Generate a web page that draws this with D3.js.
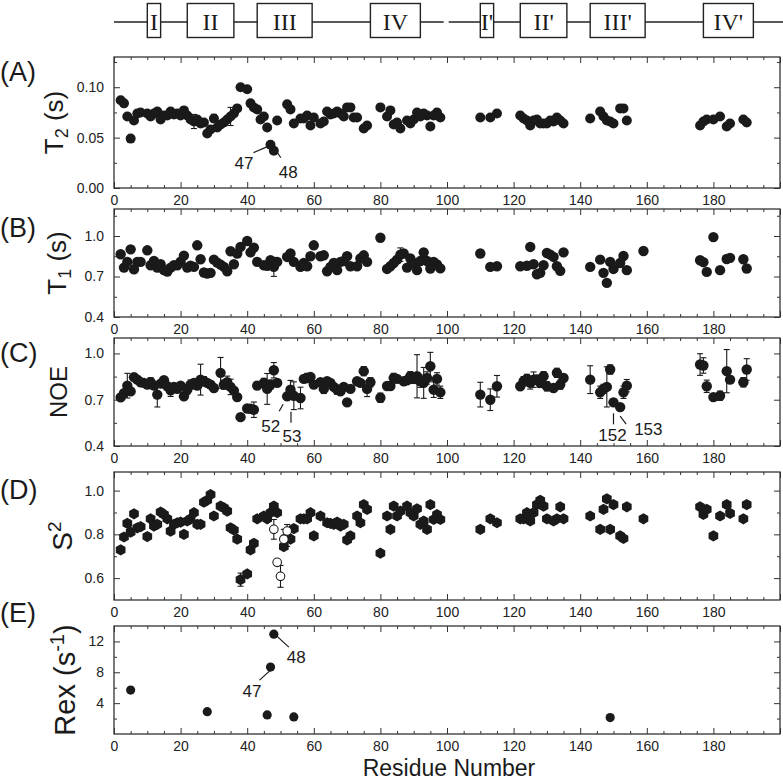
<!DOCTYPE html>
<html>
<head>
<meta charset="utf-8">
<script src="https://cdn.jsdelivr.net/npm/d3@7"></script>
<style>
  body { margin: 0; background: #fff; }
  svg { display: block; }
</style>
</head>
<body>
<script>
// ---- data: [residue, value] or [residue, value, error] ----
const domainNames = ["I", "II", "III", "IV", "I'", "II'", "III'", "IV'"];
const domainStart = [10, 22, 43, 77, 110, 122, 143, 177];
const domainEnd   = [14, 36, 59.5, 92, 114, 136, 159.5, 192];
const chainSpans  = [[0, 99], [100.5, 201]];

const t2Data = [[2,0.087],[3,0.084],[4,0.071],[5,0.049],[6,0.067],[7,0.074],[8,0.075],[10,0.074],[11,0.071],[12,0.074],[13,0.076],[14,0.068],[15,0.072],[16,0.072],[17,0.076],[18,0.073],[19,0.074],[20,0.072],[21,0.077],[22,0.072],[23,0.068],[24,0.066],[25,0.068],[26,0.064],[27,0.065],[28,0.054],[29,0.058],[30,0.069],[31,0.060],[32,0.063],[33,0.065],[34,0.068],[35,0.071],[36,0.074],[37,0.079],[38,0.100],[40,0.098],[41,0.084],[42,0.080],[43,0.078],[44,0.068],[45,0.071],[46,0.060],[47,0.043],[48,0.037],[49,0.067],[52,0.083],[53,0.078],[54,0.064],[56,0.069],[57,0.069],[58,0.072],[59,0.062],[60,0.070],[62,0.064],[63,0.066],[64,0.076],[65,0.073],[66,0.074],[67,0.076],[68,0.074],[69,0.071],[70,0.080],[71,0.080],[72,0.070],[73,0.070],[75,0.059],[76,0.062],[80,0.080],[82,0.071],[83,0.077],[84,0.063],[85,0.065],[86,0.059],[88,0.067],[89,0.064],[90,0.068],[91,0.075],[92,0.071],[93,0.074],[94,0.072],[95,0.061],[96,0.072],[97,0.075],[98,0.070],[110,0.070],[113,0.070],[115,0.074],[122,0.072],[123,0.069],[124,0.067],[125,0.062],[126,0.067],[127,0.068],[128,0.064],[129,0.064],[130,0.064],[131,0.067],[132,0.066],[133,0.070],[134,0.067],[135,0.064],[143,0.069],[146,0.076],[147,0.071],[148,0.067],[149,0.066],[150,0.064],[152,0.079],[153,0.079],[154,0.067],[176,0.062],[177,0.066],[178,0.068],[180,0.068],[182,0.071],[184,0.061],[185,0.064],[189,0.068],[190,0.065]];
const t2Err = [[24,0.066,0.007],[30,0.069,0.004],[35,0.071,0.009]];

const t1Data = [[2,0.865],[3,0.766],[4,0.808],[5,0.901],[6,0.754],[7,0.808],[8,0.808],[10,0.894],[11,0.783],[12,0.815],[13,0.766],[14,0.791],[15,0.747],[16,0.737],[17,0.766],[18,0.783],[19,0.783],[20,0.81],[21,0.855],[22,0.766],[23,0.78],[24,0.771],[25,0.931],[26,0.828],[27,0.73],[28,0.722],[29,0.727],[30,0.825],[31,0.803],[32,0.788],[33,0.771],[34,0.739],[35,0.887],[36,0.791],[37,0.87],[38,0.919],[40,0.963],[41,0.879],[42,0.914],[43,0.808],[45,0.783],[46,0.779],[47,0.82],[48,0.771],[49,0.808],[52,0.845],[53,0.87],[54,0.808],[56,0.771],[57,0.8],[58,0.776],[59,0.85],[60,0.931],[62,0.85],[63,0.857],[64,0.739],[65,0.771],[66,0.8],[67,0.747],[68,0.808],[69,0.815],[70,0.85],[71,0.776],[73,0.776],[74,0.833],[75,0.857],[76,0.808],[80,0.987],[82,0.756],[83,0.776],[84,0.8],[85,0.825],[86,0.862],[87,0.87],[88,0.766],[89,0.833],[90,0.8],[91,0.747],[92,0.815],[93,0.879],[94,0.815],[95,0.759],[96,0.808],[97,0.79],[98,0.76],[110,0.87],[113,0.771],[115,0.776],[122,0.776],[124,0.78],[125,0.919],[126,0.791],[127,0.717],[128,0.727],[129,0.783],[130,0.874],[131,0.862],[132,0.845],[133,0.776],[134,0.742],[135,0.879],[143,0.771],[146,0.825],[147,0.727],[148,0.653],[149,0.808],[150,0.756],[152,0.8],[153,0.852],[154,0.747],[159,0.889],[176,0.82],[177,0.806],[178,0.734],[180,0.992],[182,0.747],[184,0.83],[185,0.838],[189,0.828],[190,0.759]];
const t1Err = [[48,0.771,0.07],[86,0.862,0.05]];

const noeData = [[2,0.715,0],[3,0.743,0.02],[4,0.791,0.08],[5,0.754,0.02],[6,0.846,0],[7,0.83,0.01],[8,0.813,0.02],[9,0.809,0.02],[10,0.798,0.02],[11,0.813,0.03],[12,0.791,0.02],[13,0.733,0.08],[14,0.804,0.02],[15,0.826,0.02],[16,0.787,0.02],[17,0.761,0.04],[18,0.783,0.02],[19,0.77,0.02],[20,0.791,0.02],[21,0.722,0.02],[22,0.765,0.03],[23,0.798,0.03],[24,0.809,0.02],[25,0.791,0.02],[26,0.83,0.1],[27,0.82,0.03],[28,0.809,0.02],[29,0.798,0.02],[30,0.776,0.02],[32,0.874,0.1],[33,0.798,0.03],[34,0.813,0.04],[35,0.783,0.05],[36,0.759,0.02],[37,0.717,0.02],[38,0.587,0],[40,0.643,0],[41,0.641,0.02],[42,0.635,0.05],[43,0.791,0.02],[45,0.809,0.03],[46,0.77,0.1],[47,0.798,0.03],[48,0.891,0.05],[49,0.809,0.02],[52,0.722,0],[53,0.765,0.06],[54,0.726,0.09],[56,0.711,0.07],[57,0.835,0.02],[58,0.841,0.03],[59,0.848,0.02],[60,0.798,0.02],[62,0.813,0.02],[63,0.77,0.03],[64,0.82,0.02],[65,0.809,0.02],[66,0.783,0.02],[67,0.765,0.03],[68,0.754,0.02],[69,0.783,0.02],[70,0.683,0.02],[71,0.77,0.02],[73,0.82,0.02],[74,0.809,0.02],[75,0.885,0.03],[76,0.77,0.05],[77,0.813,0.03],[80,0.713,0.03],[82,0.789,0.02],[83,0.789,0.02],[84,0.841,0.03],[85,0.835,0.02],[87,0.82,0.02],[88,0.826,0.02],[89,0.852,0.03],[90,0.835,0.03],[91,0.852,0.14],[92,0.82,0.04],[93,0.809,0.1],[94,0.841,0.04],[95,0.917,0.09],[96,0.765,0.05],[97,0.835,0.04],[98,0.748,0.04],[110,0.733,0.08],[113,0.7,0.07],[115,0.787,0.07],[122,0.787,0.02],[123,0.82,0.03],[124,0.835,0.03],[125,0.809,0.04],[126,0.83,0.05],[127,0.83,0.03],[128,0.809,0.03],[129,0.852,0.03],[130,0.787,0.03],[132,0.776,0.02],[133,0.874,0.03],[134,0.798,0.03],[135,0.841,0.02],[143,0.83,0.09],[146,0.748,0.04],[147,0.77,0.03],[148,0.783,0.13],[149,0.896,0.03],[150,0.683,0.02],[152,0.652,0.02],[153,0.748,0.04],[154,0.791,0.04],[176,0.928,0.07],[177,0.922,0.05],[178,0.787,0.04],[180,0.717,0.01],[182,0.726,0.03],[184,0.885,0.14],[185,0.83,0.02],[189,0.813,0.03],[190,0.896,0.07]];

const s2Data = [[2,0.729],[3,0.788],[4,0.85],[5,0.81],[6,0.894],[7,0.83],[8,0.835],[10,0.79],[11,0.871],[12,0.838],[13,0.846],[14,0.902],[15,0.891],[16,0.871],[17,0.815],[18,0.846],[19,0.853],[20,0.856],[21,0.8],[22,0.861],[23,0.871],[24,0.899],[25,0.846],[26,0.846],[27,0.947],[28,0.956],[29,0.982],[30,0.884],[32,0.929],[33,0.921],[34,0.906],[35,0.83],[36,0.82],[37,0.778],[38,0.593],[40,0.619],[41,0.729],[42,0.759],[43,0.871],[45,0.884],[46,0.871],[47,0.899],[48,0.929],[49,0.899],[51,0.744],[52,0.785],[53,0.778],[54,0.826],[56,0.871],[57,0.871],[58,0.871],[59,0.899],[60,0.793],[62,0.884],[64,0.853],[65,0.85],[66,0.846],[67,0.856],[68,0.838],[69,0.846],[70,0.775],[71,0.793],[73,0.884],[74,0.853],[75,0.936],[76,0.914],[80,0.714],[82,0.884],[83,0.823],[84,0.929],[85,0.884],[86,0.906],[88,0.929],[89,0.899],[90,0.884],[91,0.917],[92,0.846],[93,0.861],[94,0.823],[95,0.936],[96,0.868],[97,0.89],[98,0.868],[110,0.823],[113,0.871],[115,0.853],[122,0.871],[123,0.871],[124,0.899],[125,0.861],[126,0.899],[127,0.936],[128,0.956],[129,0.929],[130,0.871],[132,0.861],[133,0.871],[134,0.926],[135,0.871],[143,0.884],[146,0.823],[147,0.914],[148,0.962],[149,0.823],[150,0.936],[152,0.793],[153,0.781],[154,0.926],[159,0.871],[176,0.926],[177,0.891],[178,0.914],[180,0.793],[182,0.884],[184,0.936],[185,0.896],[189,0.871],[190,0.936]];
const s2Err = [[38,0.593,0.03],[52,0.785,0.04]];
const s2Open = [[48,0.823,0.045],[49,0.672,0.01],[50,0.608,0.05],[51,0.778,0.045],[52,0.815,0.03]];

const rexData = [[5,5.7],[28,2.9],[46,2.47],[47,8.67],[48,12.94],[54,2.21],[149,2.13]];

const xMajor = d3.range(0, 201, 20);
const xMinor = d3.range(0, 201, 5).filter(d => d % 20 !== 0);

// ---- layout ----
const W = 783, H = 782;
const FONT = "'Liberation Sans', Arial, Helvetica, sans-serif";
const INK = "#1a1a1a";

const svg = d3.select("body").append("svg")
    .attr("width", W).attr("height", H)
    .attr("viewBox", [0, 0, W, H])
    .attr("font-family", FONT);

const x = d3.scaleLinear([0, 200], [114, 780]);

// secondary structure bar
const bar = svg.append("g").attr("stroke", "#222").attr("stroke-width", 1.4);
bar.selectAll("line.span").data(chainSpans).join("line")
    .attr("x1", d => x(d[0])).attr("x2", d => x(d[1]))
    .attr("y1", 22).attr("y2", 22);
const boxes = bar.selectAll("g.dom").data(domainNames).join("g");
boxes.append("rect")
    .attr("x", (d, i) => x(domainStart[i]))
    .attr("width", (d, i) => x(domainEnd[i]) - x(domainStart[i]))
    .attr("y", 3.5).attr("height", 34)
    .attr("fill", "#fff");
boxes.append("text")
    .attr("x", (d, i) => (x(domainStart[i]) + x(domainEnd[i])) / 2)
    .attr("y", 30)
    .attr("text-anchor", "middle")
    .attr("stroke", "none").attr("fill", INK)
    .attr("font-family", "'Liberation Serif', 'Times New Roman', serif")
    .attr("font-size", 24)
    .text(d => d);

const panels = [
  { id: "A", top: 57, bottom: 188, domain: [0, 0.13], major: [0, 0.05, 0.10], minor: [0.025, 0.075, 0.125], fmt: d3.format(".2f"), labelY: 81, titleX: 63 },
  { id: "B", top: 209, bottom: 317, domain: [0.4, 1.2], major: [0.4, 0.7, 1.0], minor: [0.55, 0.85, 1.15], fmt: d3.format(".1f"), labelY: 237, titleX: 66 },
  { id: "C", top: 338, bottom: 446, domain: [0.4, 1.1], major: [0.4, 0.7, 1.0], minor: [0.55, 0.85], fmt: d3.format(".1f"), labelY: 362, titleX: 67 },
  { id: "D", top: 472, bottom: 600, domain: [0.5, 1.085], major: [0.6, 0.8, 1.0], minor: [0.7, 0.9], fmt: d3.format(".1f"), labelY: 499, titleX: 72 },
  { id: "E", top: 626, bottom: 734, domain: [0, 14], major: [4, 8, 12], minor: [2, 6, 10], fmt: d3.format("d"), labelY: 622, titleX: 75 }
];

function styleAxis(g) {
  g.select(".domain").remove();
  g.selectAll(".tick line").attr("stroke", "#333").attr("stroke-width", 1);
  g.attr("font-size", 14).attr("font-family", FONT);
  g.selectAll(".tick text").attr("fill", "#222");
}

function drawFrame(p) {
  const y = d3.scaleLinear(p.domain, [p.bottom, p.top]);
  const g = svg.append("g");

  g.append("g").attr("transform", `translate(0,${p.bottom})`)
    .call(d3.axisBottom(x).tickValues(xMajor).tickSize(-6).tickPadding(7).tickFormat(d => d < 200 ? d : ""))
    .call(styleAxis);
  g.append("g").attr("transform", `translate(0,${p.bottom})`)
    .call(d3.axisBottom(x).tickValues(xMinor).tickSize(-3).tickFormat(""))
    .call(styleAxis);
  g.append("g").attr("transform", `translate(0,${p.top})`)
    .call(d3.axisTop(x).tickValues(xMajor).tickSize(-6).tickFormat(""))
    .call(styleAxis);
  g.append("g").attr("transform", `translate(0,${p.top})`)
    .call(d3.axisTop(x).tickValues(xMinor).tickSize(-3).tickFormat(""))
    .call(styleAxis);

  g.append("g").attr("transform", `translate(${x.range()[0]},0)`)
    .call(d3.axisLeft(y).tickValues(p.major).tickSize(-6).tickPadding(10).tickFormat(p.fmt))
    .call(styleAxis);
  g.append("g").attr("transform", `translate(${x.range()[0]},0)`)
    .call(d3.axisLeft(y).tickValues(p.minor).tickSize(-3).tickFormat(""))
    .call(styleAxis);
  g.append("g").attr("transform", `translate(${x.range()[1]},0)`)
    .call(d3.axisRight(y).tickValues(p.major).tickSize(-6).tickFormat(""))
    .call(styleAxis);
  g.append("g").attr("transform", `translate(${x.range()[1]},0)`)
    .call(d3.axisRight(y).tickValues(p.minor).tickSize(-3).tickFormat(""))
    .call(styleAxis);

  g.append("rect")
    .attr("x", x.range()[0]).attr("y", p.top)
    .attr("width", x.range()[1] - x.range()[0]).attr("height", p.bottom - p.top)
    .attr("fill", "none").attr("stroke", "#333").attr("stroke-width", 1.3);

  svg.append("text")
    .attr("x", 0).attr("y", p.labelY)
    .attr("font-size", 27).attr("fill", INK)
    .text(`(${p.id})`);

  return y;
}

function errorBars(y, rows) {
  const g = svg.append("g").attr("stroke", INK).attr("stroke-width", 1.1);
  const eb = g.selectAll("g").data(rows.filter(d => d[2] > 0)).join("g");
  eb.append("line")
    .attr("x1", d => x(d[0])).attr("x2", d => x(d[0]))
    .attr("y1", d => y(d[1] - d[2])).attr("y2", d => y(d[1] + d[2]));
  [-1, 1].forEach(s => {
    eb.append("line")
      .attr("x1", d => x(d[0]) - 3).attr("x2", d => x(d[0]) + 3)
      .attr("y1", d => y(d[1] + s * d[2])).attr("y2", d => y(d[1] + s * d[2]));
  });
}

function dots(y, rows, r) {
  svg.append("g").selectAll("circle").data(rows).join("circle")
    .attr("cx", d => x(d[0])).attr("cy", d => y(d[1]))
    .attr("r", r).attr("fill", INK);
}

const hexPath = d3.line()(d3.range(6).map(k => {
  const a = Math.PI / 6 + k * Math.PI / 3;
  return [5.6 * Math.cos(a), 5.6 * Math.sin(a)];
})) + "Z";

function annotate(y, res, val, text, line, pos, anchor) {
  const px = x(res), py = y(val);
  svg.append("line")
    .attr("x1", px + line[0]).attr("y1", py + line[1])
    .attr("x2", px + line[2]).attr("y2", py + line[3])
    .attr("stroke", INK).attr("stroke-width", 1.2);
  svg.append("text")
    .attr("x", px + pos[0]).attr("y", py + pos[1])
    .attr("text-anchor", anchor)
    .attr("font-size", 17).attr("fill", INK)
    .text(text);
}

function yTitle(p, build) {
  const t = svg.append("text")
    .attr("transform", `translate(${p.titleX},${(p.top + p.bottom) / 2}) rotate(-90)`)
    .attr("text-anchor", "middle")
    .attr("fill", INK);
  build(t);
}

// (A) T2
const yA = drawFrame(panels[0]);
errorBars(yA, t2Err);
dots(yA, t2Data, 5);
annotate(yA, 47, 0.043, "47", [-3, 2, -17, 8], [-17, 24], "end");
annotate(yA, 48, 0.037, "48", [3, 1, 7, 7], [5, 27], "start");
yTitle(panels[0], t => {
  t.attr("font-size", 26);
  t.append("tspan").text("T");
  t.append("tspan").attr("font-size", 18).attr("dy", 5).text("2");
  t.append("tspan").attr("dy", -5).text(" (s)");
});

// (B) T1
const yB = drawFrame(panels[1]);
errorBars(yB, t1Err);
dots(yB, t1Data, 5.2);
yTitle(panels[1], t => {
  t.attr("font-size", 26);
  t.append("tspan").text("T");
  t.append("tspan").attr("font-size", 18).attr("dy", 5).text("1");
  t.append("tspan").attr("dy", -5).text(" (s)");
});

// (C) NOE
const yC = drawFrame(panels[2]);
errorBars(yC, noeData);
dots(yC, noeData, 5.2);
annotate(yC, 52, 0.722, "52", [-8, 15, -4, 8], [-7, 36], "end");
annotate(yC, 53, 0.765, "53", [0.5, 22, 0.5, 33], [-8, 52], "start");
annotate(yC, 150, 0.683, "152", [0, 11, 0, 22], [-1, 39], "middle");
annotate(yC, 152, 0.652, "153", [0, 9, 6, 17], [14, 28], "start");
yTitle(panels[2], t => t.attr("font-size", 24).text("NOE"));

// (D) S2
const yD = drawFrame(panels[3]);
errorBars(yD, s2Err);
errorBars(yD, s2Open);
svg.append("g").selectAll("path").data(s2Data).join("path")
  .attr("transform", d => `translate(${x(d[0])},${yD(d[1])})`)
  .attr("d", hexPath)
  .attr("fill", INK);
svg.append("g").selectAll("circle").data(s2Open).join("circle")
  .attr("cx", d => x(d[0])).attr("cy", d => yD(d[1]))
  .attr("r", 4.3).attr("fill", "#fff").attr("stroke", INK).attr("stroke-width", 1.1);
yTitle(panels[3], t => {
  t.attr("font-size", 28);
  t.append("tspan").text("S");
  t.append("tspan").attr("font-size", 19).attr("dy", -11).text("2");
});

// (E) Rex
const yE = drawFrame(panels[4]);
dots(yE, rexData, 4.6);
annotate(yE, 48, 12.94, "48", [3, 2, 15, 13], [13, 29], "start");
annotate(yE, 47, 8.67, "47", [-11, 13, 0, 3], [-9, 30], "end");
yTitle(panels[4], t => {
  t.attr("font-size", 29);
  t.append("tspan").text("Rex (s");
  t.append("tspan").attr("font-size", 20).attr("dy", -11).text("-1");
  t.append("tspan").attr("dy", 11).text(")");
});

svg.append("text")
  .attr("x", (x.range()[0] + x.range()[1]) / 2 + 2)
  .attr("y", 776)
  .attr("text-anchor", "middle")
  .attr("font-size", 23).attr("fill", INK)
  .text("Residue Number");
</script>
</body>
</html>
